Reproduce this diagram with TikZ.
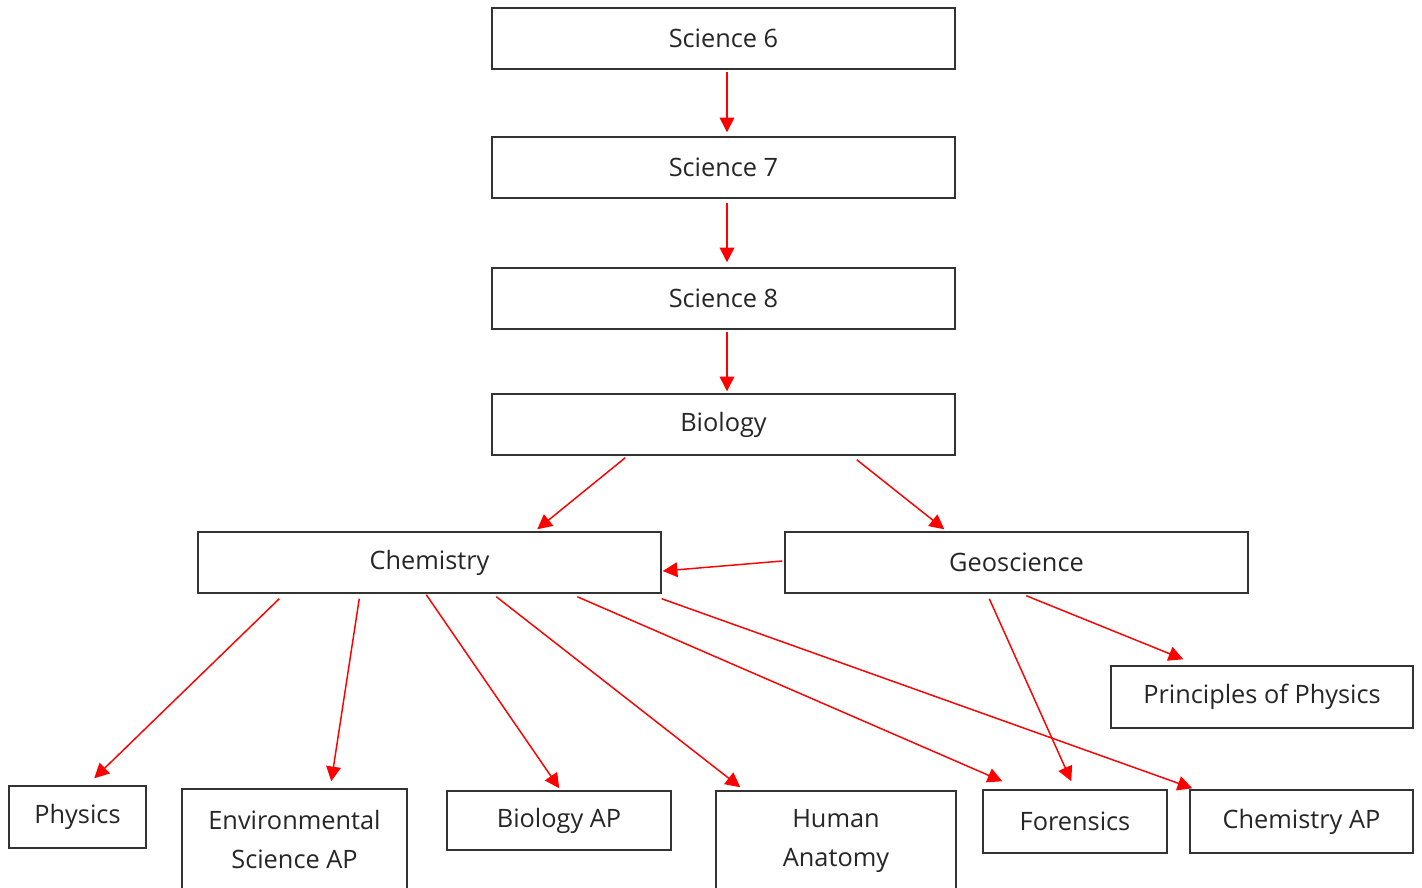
\documentclass[tikz,border=0pt]{standalone}
\usepackage{fontspec}
\setmainfont{Open Sans}
\usetikzlibrary{arrows.meta}

\tikzset{
  course/.style={draw=black!80, line width=1.1pt, fill=white, inner sep=0pt,
    align=center, font=\fontsize{19}{29.25}\selectfont, text=black!85},
  link/.style={draw=red, line width=1.1pt, -{Triangle[length=11pt,width=11pt]}}
}

\begin{document}
\begin{tikzpicture}[x=0.75pt,y=0.75pt,yscale=-1,xscale=1]
\clip (0,0) rectangle (1422,888);
\fill[white] (0,0) rectangle (1422,888);

% Text Node
\node[course, minimum width=347.25pt, minimum height=45.75pt] (sci6) at (723.5,38.5) {Science 6};
% Text Node
\node[course, minimum width=347.25pt, minimum height=45.75pt] (sci7) at (723.5,167.5) {Science 7};
% Text Node
\node[course, minimum width=347.25pt, minimum height=45.75pt] (sci8) at (723.5,298.5) {Science 8};
% Text Node
\node[course, minimum width=347.25pt, minimum height=45.75pt] (bio) at (723.5,424.5) {Biology};
% Text Node
\node[course, minimum width=347.25pt, minimum height=45.75pt] (chem) at (429.5,562.5) {Chemistry};
% Text Node
\node[course, minimum width=347.25pt, minimum height=45.75pt] (geo) at (1016.5,562.5) {Geoscience};
% Text Node
\node[course, minimum width=226.5pt, minimum height=46.5pt] (prinphys) at (1262,697) {Principles of Physics};
% Text Node
\node[course, minimum width=102.75pt, minimum height=46.5pt] (phys) at (77.5,817) {Physics};
% Text Node
\node[course, minimum width=168.75pt, minimum height=75pt] (envsci) at (294.5,839) {Environmental\\Science AP};
% Text Node
\node[course, minimum width=168pt, minimum height=44.25pt] (bioap) at (559,820.5) {Biology AP};
% Text Node
\node[course, minimum width=180pt, minimum height=75pt] (anatomy) at (836,841) {Human\\Anatomy};
% Text Node
\node[course, minimum width=138pt, minimum height=47.25pt] (foren) at (1075,821.5) {Forensics};
% Text Node
\node[course, minimum width=167.25pt, minimum height=47.25pt] (chemap) at (1301.5,821.5) {Chemistry AP};

%Straight Lines
\draw[link] ([shift={(3.5,2)}]sci6.south) -- ([shift={(3.5,-4)}]sci7.north);
\draw[link] ([shift={(3.5,4)}]sci7.south) -- ([shift={(3.5,-5)}]sci8.north);
\draw[link] ([shift={(3.5,2)}]sci8.south) -- ([shift={(3.5,-2)}]bio.north);

%Straight Lines
\draw[link] ([shift={(134,2)}]bio.south west) -- ([shift={(340,-2)}]chem.north west);
\draw[link] ([shift={(-99,4)}]bio.south east) -- ([shift={(160,-2)}]geo.north west);
\draw[link] ([shift={(-2,-1.5)}]geo.west) -- ([shift={(1,8.5)}]chem.east);

%Straight Lines
\draw[link] ([shift={(82,5)}]chem.south west) -- ([shift={(86,-7)}]phys.north west);
\draw[link] ([shift={(162,5)}]chem.south west) -- ([shift={(150,-7)}]envsci.north west);
\draw[link] ([shift={(229,1)}]chem.south west) -- ([shift={(113,-2)}]bioap.north west);
\draw[link] ([shift={(299,3)}]chem.south west) -- ([shift={(25,-3)}]anatomy.north west);
\draw[link] ([shift={(380,3)}]chem.south west) -- ([shift={(20,-8)}]foren.north west);
\draw[link] ([shift={(0,5)}]chem.south east) -- ([shift={(3,-1)}]chemap.north west);

%Straight Lines
\draw[link] ([shift={(205,5)}]geo.south west) -- ([shift={(89,-8)}]foren.north west);
\draw[link] ([shift={(242,2)}]geo.south west) -- ([shift={(73,-6)}]prinphys.north west);

\end{tikzpicture}
\end{document}
